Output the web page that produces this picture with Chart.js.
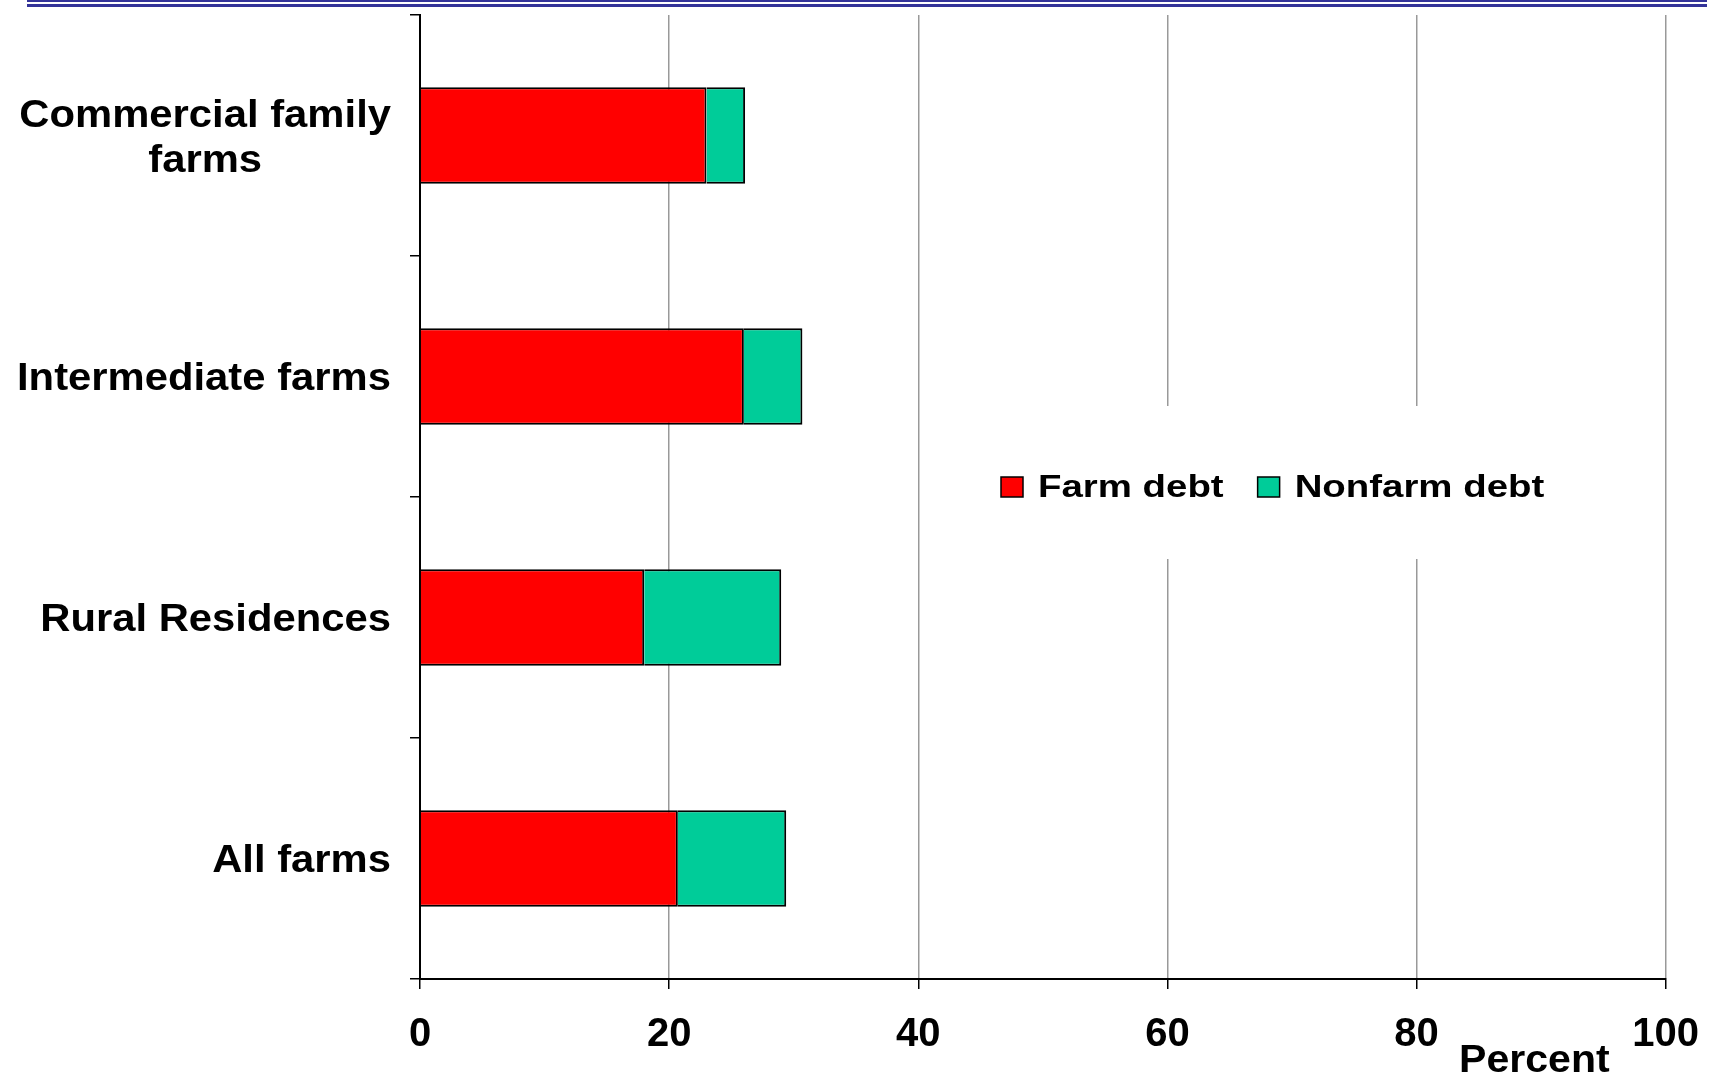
<!DOCTYPE html>
<html>
<head>
<meta charset="utf-8">
<title>Farm and nonfarm debt</title>
<script src="https://cdn.jsdelivr.net/npm/chart.js@4.4.1/dist/chart.umd.min.js"></script>
<style>
    body { margin: 0; background: #fff; }
    #wrap { position: relative; width: 1721px; height: 1079px; }
    .rule { position: absolute; left: 27px; width: 1680px; background: #333399; }
</style>
</head>
<body>
<div id="wrap">
    <canvas id="myChart" width="1721" height="1079"></canvas>
    <div class="rule" style="top:0px; height:2px;"></div>
    <div class="rule" style="top:4px; height:3px;"></div>
</div>
<script>
// Données (en %)
const categories = [["Commercial family", "farms"], "Intermediate farms", "Rural Residences", "All farms"];
const farmDebt = [23, 26, 18, 20.7];
const nonfarmDebt = [3.1, 4.7, 11, 8.7];
const xTicks = [0, 20, 40, 60, 80, 100];
const axisTitle = "Percent";

const police = '"Liberation Sans", Arial, sans-serif';

// Étiquettes de catégories : lignes centrées entre elles, bloc aligné à droite
const etiquettesPlugin = {
    id: 'etiquettes',
    afterDraw(chart) {
        const ctx = chart.ctx;
        const yScale = chart.scales.y;
        const area = chart.chartArea;
        ctx.save();
        ctx.fillStyle = '#000';

        // catégories
        ctx.font = 'bold 38px ' + police;
        ctx.textAlign = 'center';
        ctx.textBaseline = 'middle';
        const sx = 1.1;
        const droite = yScale.right - 29;
        chart.data.labels.forEach((lab, i) => {
            const lignes = Array.isArray(lab) ? lab : [lab];
            const w = Math.max(...lignes.map(l => ctx.measureText(l).width)) * sx;
            const cx = droite - w / 2;
            const cy = yScale.getPixelForTick(i) + 3.5;
            lignes.forEach((l, j) => {
                const ly = cy + (j - (lignes.length - 1) / 2) * 45;
                ctx.save();
                ctx.translate(cx, ly);
                ctx.scale(sx, 1);
                ctx.fillText(l, 0, 0);
                ctx.restore();
            });
        });

        // titre de l'axe x
        ctx.font = 'bold 38px ' + police;
        ctx.textAlign = 'right';
        ctx.textBaseline = 'alphabetic';
        ctx.save();
        ctx.translate(area.right - 56, 1072);
        ctx.scale(1.08, 1);
        ctx.fillText(axisTitle, 0, 0);
        ctx.restore();

        // légende au milieu du graphique, fond blanc
        ctx.fillStyle = '#fff';
        ctx.fillRect(945, 406, 650, 153);
        ctx.font = 'bold 32px ' + police;
        ctx.textAlign = 'left';
        const lsx = 1.2;
        let x = 1001;
        chart.data.datasets.forEach(ds => {
            ctx.fillStyle = ds.backgroundColor;
            ctx.fillRect(x, 477, 22, 20);
            ctx.strokeStyle = '#000';
            ctx.lineWidth = 1.5;
            ctx.strokeRect(x, 477, 22, 20);
            ctx.fillStyle = '#000';
            ctx.save();
            ctx.translate(x + 37, 497);
            ctx.scale(lsx, 1);
            ctx.fillText(ds.label, 0, 0);
            ctx.restore();
            x += 37 + ctx.measureText(ds.label).width * lsx + 34;
        });
        ctx.restore();
    }
};

const ctx = document.getElementById("myChart").getContext("2d");
const chart = new Chart(ctx, {
    type: 'bar',
    data: {
        labels: categories,
        datasets: [
            {
                label: 'Farm debt',
                data: farmDebt,
                backgroundColor: '#FF0000',
                borderColor: '#000',
                borderWidth: 2,
                barPercentage: 0.4,
                categoryPercentage: 1
            },
            {
                label: 'Nonfarm debt',
                data: nonfarmDebt,
                backgroundColor: '#00CC99',
                borderColor: '#000',
                borderWidth: 2,
                barPercentage: 0.4,
                categoryPercentage: 1
            }
        ]
    },
    options: {
        indexAxis: 'y',
        responsive: false,
        animation: false,
        devicePixelRatio: 1,
        layout: { padding: { left: 0, right: 55, top: 15, bottom: 0 } },
        plugins: {
            legend: { display: false },
            tooltip: { enabled: false }
        },
        scales: {
            x: {
                stacked: true,
                min: 0,
                max: 100,
                afterBuildTicks: (scale) => { scale.ticks = xTicks.map(v => ({ value: v })); },
                afterFit: (scale) => { scale.height = 100; },
                grid: {
                    color: (c) => c.tick && c.tick.value === 0 ? 'rgba(0,0,0,0)' : '#999',
                    lineWidth: 1.5,
                    tickColor: '#000',
                    tickLength: 10
                },
                border: { color: '#000', width: 2 },
                ticks: {
                    color: '#000',
                    font: { family: police, size: 40, weight: 'bold' },
                    padding: 22,
                    maxRotation: 0,
                    autoSkip: false
                }
            },
            y: {
                stacked: true,
                afterFit: (scale) => { scale.width = 420; },
                grid: {
                    offset: true,
                    drawOnChartArea: false,
                    drawTicks: true,
                    tickLength: 10,
                    color: '#000',
                    lineWidth: 1.5
                },
                border: { color: '#000', width: 2 },
                ticks: { display: false }
            }
        }
    },
    plugins: [etiquettesPlugin]
});
</script>
</body>
</html>
